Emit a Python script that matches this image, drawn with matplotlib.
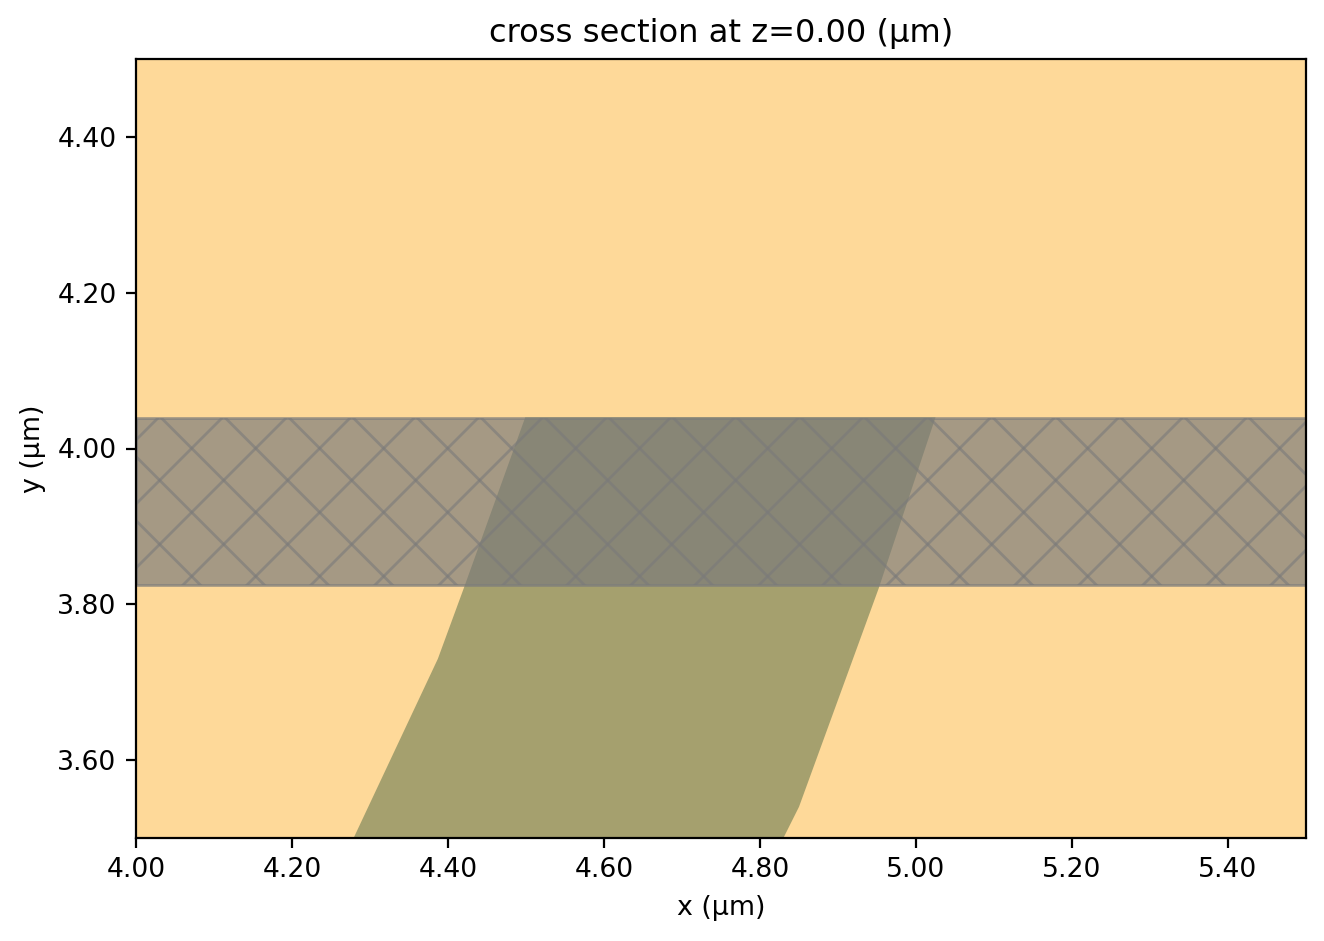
#!/usr/bin/env python3
"""Cross section plot of a slab with a waveguide and a hatched box."""

import matplotlib
matplotlib.use("Agg")
import matplotlib.pyplot as plt
import numpy as np
from matplotlib.patches import Polygon, Rectangle

# waveguide outline in um
wg_x = [4.279, 4.387, 4.42, 4.499, 5.025, 4.952, 4.85, 4.83]
wg_y = [3.50, 3.73, 3.82, 4.04, 4.04, 3.82, 3.54, 3.50]

box_x = [4.00, 5.50]
box_y = [3.825, 4.039]

xticks = [4.0, 4.2, 4.4, 4.6, 4.8, 5.0, 5.2, 5.4]
yticks = [3.6, 3.8, 4.0, 4.2, 4.4]

# hatch spacing and phase in pixels, the default "x" hatch is too dense
HATCH_STEP = 64
HATCH_X = 191.7
HATCH_Y = 941 - 448.3

fig, ax = plt.subplots(figsize=(1324 / 200, 941 / 200), dpi=200)
ax.set_facecolor("#fed999")
ax.add_patch(Polygon(list(zip(wg_x, wg_y)), closed=True, facecolor="#a5a06e", edgecolor="none"))
box = Rectangle((box_x[0], box_y[0]), box_x[1] - box_x[0], box_y[1] - box_y[0],
                facecolor="#7a7a7a", alpha=0.67, edgecolor="#7c7c7c", linewidth=1.0)
ax.add_patch(box)
ax.set_xlim(4.0, 5.5)
ax.set_ylim(3.5, 4.5)
ax.set_xticks(xticks, ["{:.2f}".format(v) for v in xticks])
ax.set_yticks(yticks, ["{:.2f}".format(v) for v in yticks])
ax.tick_params(labelsize=9.6)
ax.set_xlabel("x (µm)", fontsize=9.7)
ax.set_ylabel("y (µm)", fontsize=9.7)
ax.set_title("cross section at z=0.00 (µm)", fontsize=11.55)
fig.subplots_adjust(left=136 / 1324, right=1306 / 1324, top=1 - 59 / 941, bottom=1 - 838 / 941)

# diagonal lines in display space, clipped to the box
for k in range(-30, 31):
    x0 = HATCH_X + k * HATCH_STEP
    for sign in (1, -1):
        xs = np.array([x0 - 1400, x0 + 1400])
        ys = HATCH_Y + sign * (xs - x0)
        line, = ax.plot(xs, ys, transform=None, color="#7a7a7a", alpha=0.6, lw=1.0, zorder=2.5)
        line.set_clip_path(box)

fig.savefig("out.png", dpi=200)
